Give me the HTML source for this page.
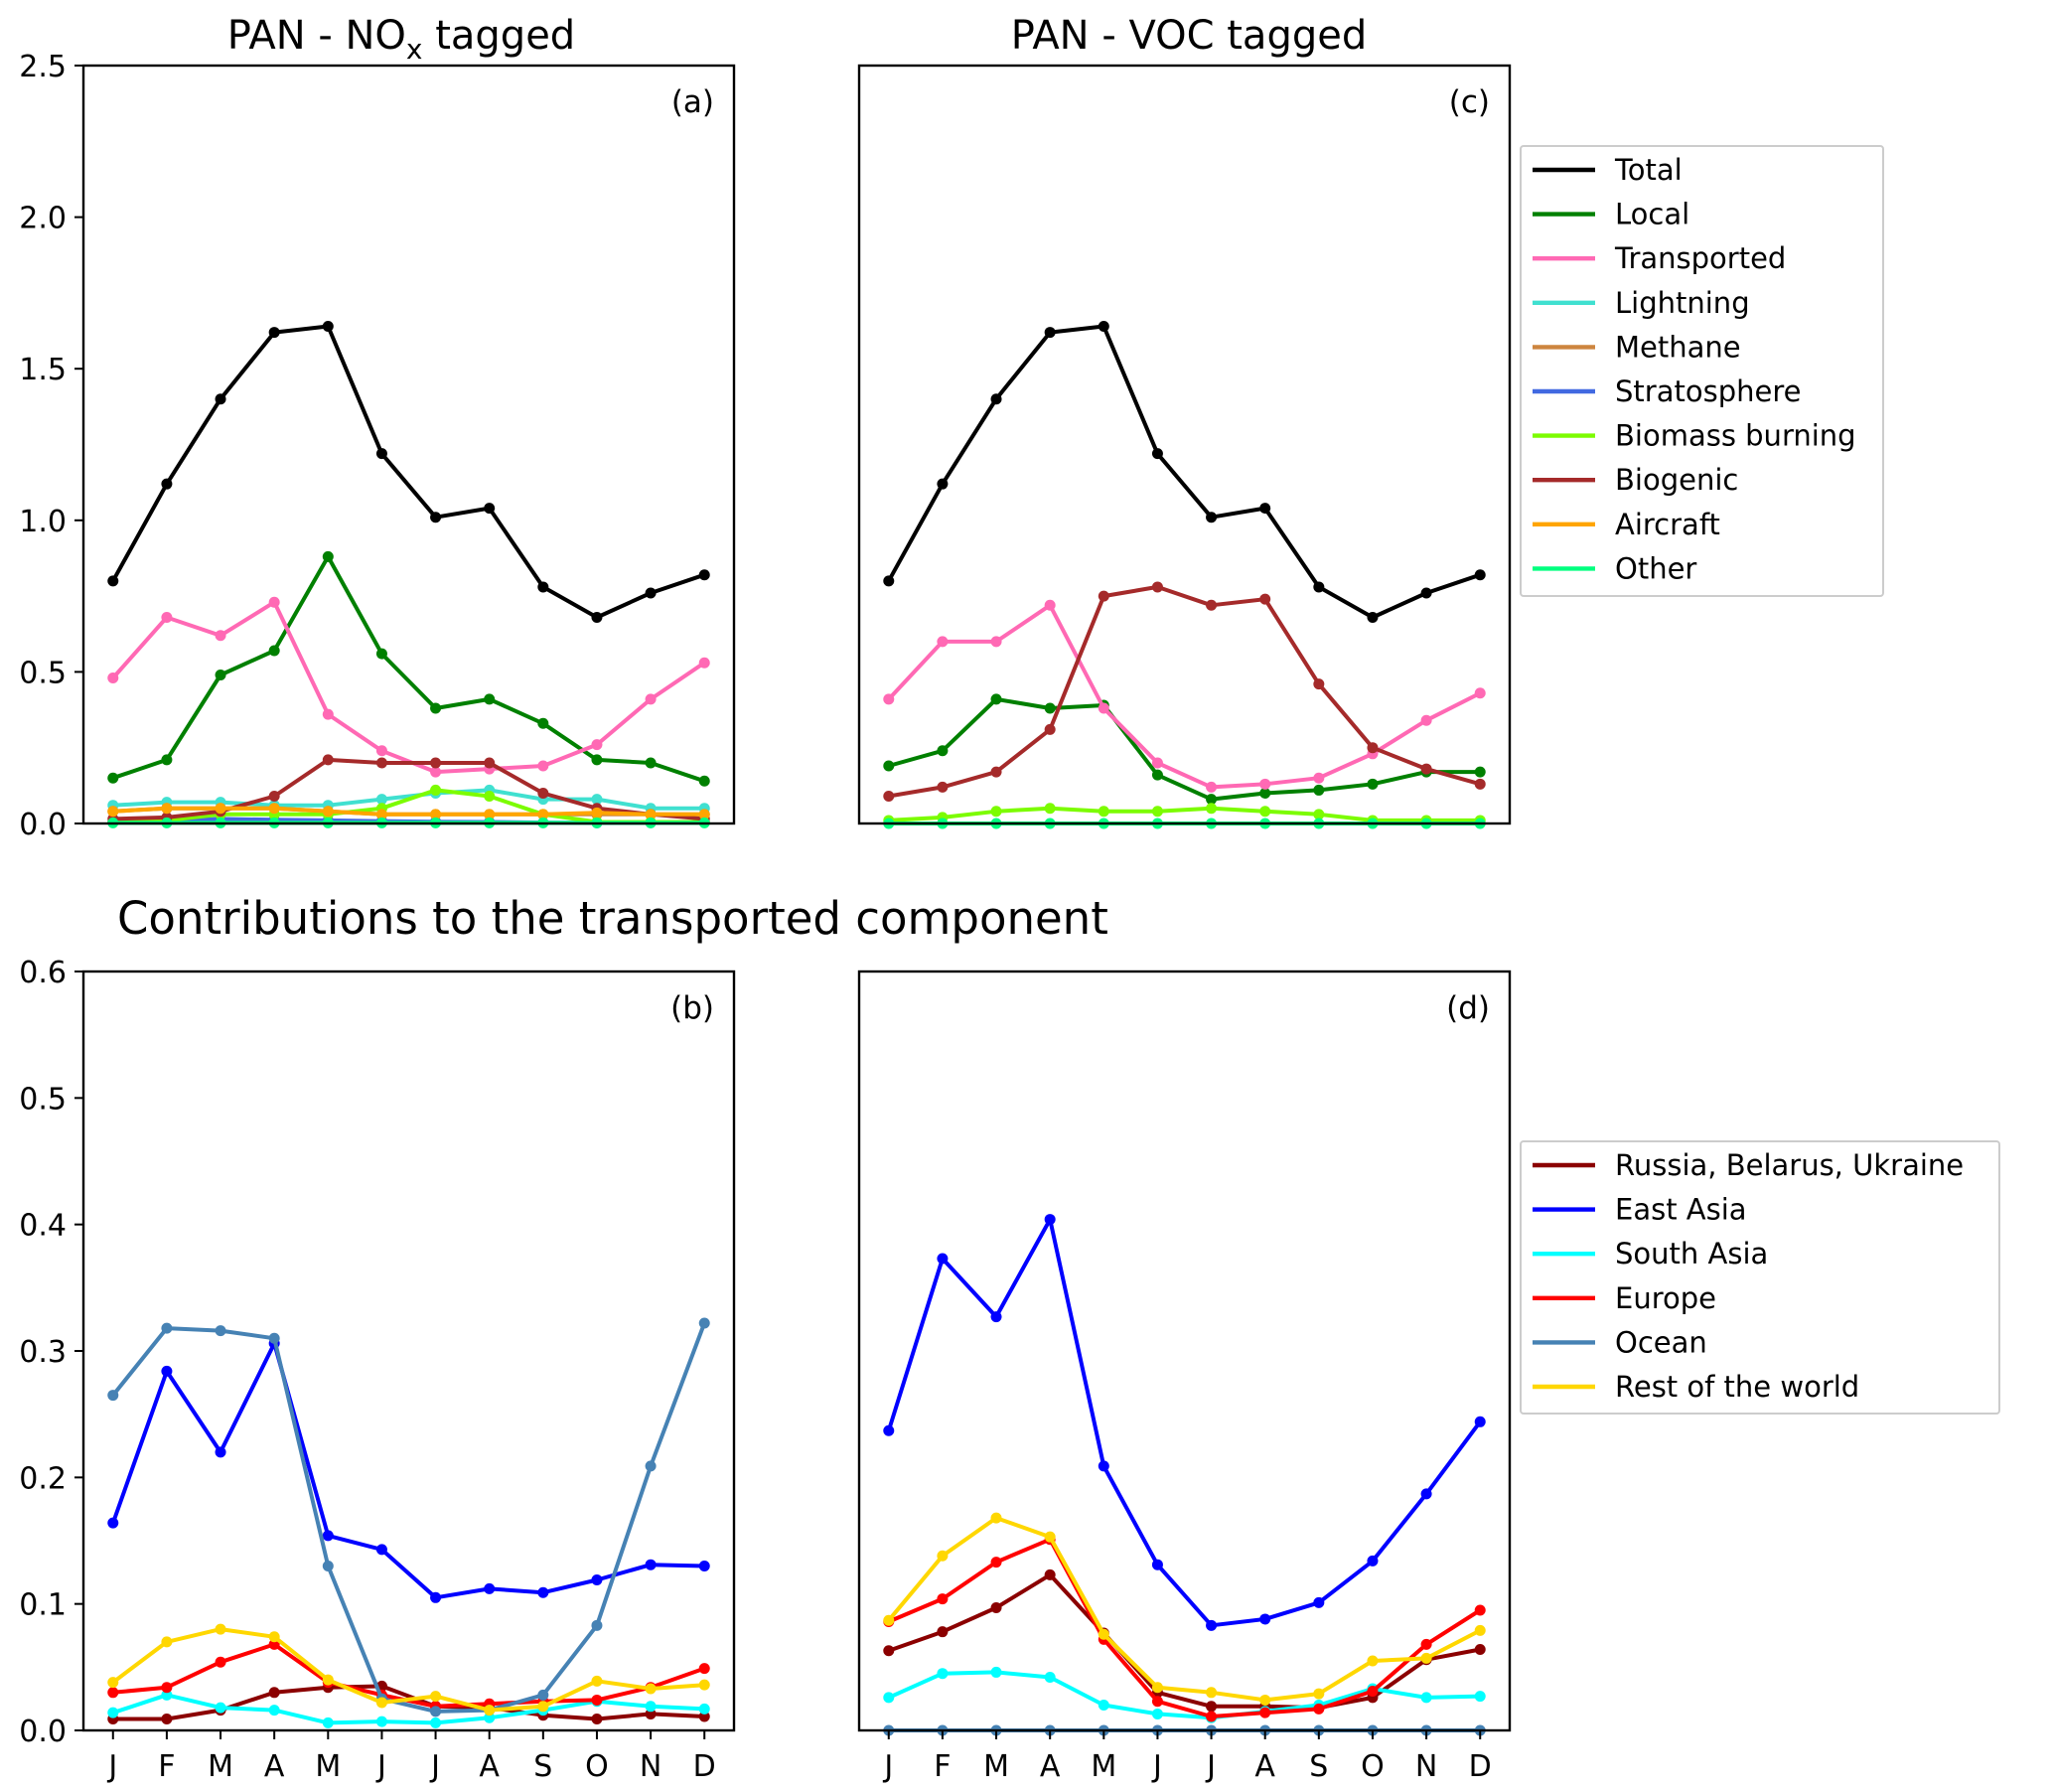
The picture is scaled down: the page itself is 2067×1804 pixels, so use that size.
<!DOCTYPE html>
<html><head><meta charset="utf-8"><style>
body{margin:0;background:#fff}
svg{display:block;font-family:"DejaVu Sans","Liberation Sans",sans-serif}
</style></head><body>
<svg id="fig" width="2067" height="1804" viewBox="0 0 2067 1804" xmlns="http://www.w3.org/2000/svg">
<text x="404" y="49" font-size="40" text-anchor="middle">PAN - NO<tspan font-size="28" dy="10">x</tspan><tspan dy="-10"> tagged</tspan></text>
<text x="1197" y="49" font-size="40" text-anchor="middle">PAN  - VOC tagged</text>
<text x="118" y="940" font-size="45">Contributions to the transported component</text>
</svg>
<script>
const months = ["J","F","M","A","M","J","J","A","S","O","N","D"];
const topTicks = ["0.0","0.5","1.0","1.5","2.0","2.5"];
const botTicks = ["0.0","0.1","0.2","0.3","0.4","0.5","0.6"];

const aTotal = [0.80,1.12,1.40,1.62,1.64,1.22,1.01,1.04,0.78,0.68,0.76,0.82];
const aLocal = [0.15,0.21,0.49,0.57,0.88,0.56,0.38,0.41,0.33,0.21,0.20,0.14];
const aTransported = [0.48,0.68,0.62,0.73,0.36,0.24,0.17,0.18,0.19,0.26,0.41,0.53];
const aLightning = [0.06,0.07,0.07,0.06,0.06,0.08,0.10,0.11,0.08,0.08,0.05,0.05];
const aMethane = [0.04,0.05,0.05,0.05,0.04,0.03,0.03,0.03,0.03,0.03,0.03,0.03];
const aStrato = [0.005,0.008,0.015,0.012,0.01,0.008,0.006,0.005,0.003,0.002,0.003,0.004];
const aBiomass = [0.005,0.01,0.03,0.03,0.03,0.05,0.11,0.09,0.03,0.005,0.005,0.005];
const aBiogenic = [0.015,0.02,0.04,0.09,0.21,0.20,0.20,0.20,0.10,0.05,0.03,0.015];
const aAircraft = [0.04,0.05,0.05,0.05,0.04,0.03,0.03,0.03,0.03,0.035,0.03,0.03];
const aOther = [0.002,0.002,0.002,0.002,0.002,0.002,0.002,0.002,0.002,0.002,0.002,0.002];

const cTotal = [0.80,1.12,1.40,1.62,1.64,1.22,1.01,1.04,0.78,0.68,0.76,0.82];
const cLocal = [0.19,0.24,0.41,0.38,0.39,0.16,0.08,0.10,0.11,0.13,0.17,0.17];
const cTransported = [0.41,0.60,0.60,0.72,0.38,0.20,0.12,0.13,0.15,0.23,0.34,0.43];
const cBiomass = [0.01,0.02,0.04,0.05,0.04,0.04,0.05,0.04,0.03,0.01,0.01,0.01];
const cBiogenic = [0.09,0.12,0.17,0.31,0.75,0.78,0.72,0.74,0.46,0.25,0.18,0.13];
const cOther = [0,0,0,0,0,0,0,0,0,0,0,0];

const bRBU = [0.009,0.009,0.016,0.03,0.034,0.035,0.019,0.018,0.012,0.009,0.013,0.011];
const bEastAsia = [0.164,0.284,0.22,0.306,0.154,0.143,0.105,0.112,0.109,0.119,0.131,0.13];
const bSouthAsia = [0.014,0.028,0.018,0.016,0.006,0.007,0.006,0.01,0.016,0.023,0.019,0.017];
const bEurope = [0.03,0.034,0.054,0.068,0.038,0.028,0.019,0.021,0.023,0.024,0.034,0.049];
const bOcean = [0.265,0.318,0.316,0.31,0.13,0.025,0.015,0.016,0.028,0.083,0.209,0.322];
const bRoW = [0.038,0.07,0.08,0.074,0.04,0.022,0.027,0.016,0.019,0.039,0.033,0.036];

const dRBU = [0.063,0.078,0.097,0.123,0.077,0.03,0.019,0.019,0.018,0.026,0.056,0.064];
const dEastAsia = [0.237,0.373,0.327,0.404,0.209,0.131,0.083,0.088,0.101,0.134,0.187,0.244];
const dSouthAsia = [0.026,0.045,0.046,0.042,0.02,0.013,0.01,0.015,0.02,0.033,0.026,0.027];
const dEurope = [0.086,0.104,0.133,0.151,0.072,0.023,0.011,0.014,0.017,0.031,0.068,0.095];
const dOcean = [0,0,0,0,0,0,0,0,0,0,0,0];
const dRoW = [0.087,0.138,0.168,0.153,0.076,0.034,0.03,0.024,0.029,0.055,0.057,0.079];

const topNames = ["Total","Local","Transported","Lightning","Methane","Stratosphere","Biomass burning","Biogenic","Aircraft","Other"];
const topColors = ["#000000","#008000","#ff69b4","#40e0d0","#cd853f","#4169e1","#7cfc00","#a52a2a","#ffa500","#00ff7f"];
const botNames = ["Russia, Belarus, Ukraine","East Asia","South Asia","Europe","Ocean","Rest of the world"];
const botColors = ["#8b0000","#0000ff","#00ffff","#ff0000","#4682b4","#ffd700"];

const NS="http://www.w3.org/2000/svg";
const svg=document.getElementById('fig');
function mk(tag,attrs,parent){const e=document.createElementNS(NS,tag);for(const k in attrs)e.setAttribute(k,attrs[k]);(parent||svg).appendChild(e);return e;}

function panel(id,x0,x1,y0,y1,ymax,ticks,showY,showX,label,series){
  const g=mk('g',{});
  
  
  const sx=i=>x0+(i+0.55)*(x1-x0)/12.1;
  const sy=v=>y1-v/ymax*(y1-y0);
  series.forEach(s=>{
    if(!s.data) return;
    const pts=s.data.map((v,i)=>sx(i).toFixed(1)+','+sy(v).toFixed(1)).join(' ');
    const pl=mk('polyline',{points:pts,fill:'none',stroke:s.color,'stroke-width':4,'stroke-linejoin':'round'},g);
    
    
    s.data.forEach((v,i)=>{
      const c=mk('circle',{cx:sx(i),cy:sy(v),r:5.5,fill:s.color},g);
      
      
    });
  });
  const fr=mk('rect',{x:x0,y:y0,width:x1-x0,height:y1-y0,fill:'none',stroke:'#000','stroke-width':2.4},g);
  
  
  if(showY){
    ticks.forEach(t=>{
      const y=sy(parseFloat(t));
      mk('line',{x1:x0-9,x2:x0,y1:y,y2:y,stroke:'#000','stroke-width':2},g);
      const tx=mk('text',{x:x0-17,y:y+11,'font-size':30,'text-anchor':'end'},g);
      tx.textContent=t;
      
      
    });
  }
  if(showX){
    months.forEach((m,i)=>{
      const x=sx(i);
      mk('line',{x1:x,x2:x,y1:y1,y2:y1+9,stroke:'#000','stroke-width':2},g);
      const tx=mk('text',{x:x,y:y1+46,'font-size':30,'text-anchor':'middle'},g);
      tx.textContent=m;
      
      
    });
  }
  const lb=mk('text',{x:x1-20,y:y0+47,'font-size':31,'text-anchor':'end'},g);
  lb.textContent=label;
  
  
}

function legend(id,x0,y0,w,h,names,colors){
  const g=mk('g',{});
  
  
  mk('rect',{x:x0,y:y0,width:w,height:h,rx:3,fill:'#fff',stroke:'#ccc','stroke-width':2},g);
  names.forEach((n,i)=>{
    const y=y0+24+i*44.6;
    const e=mk('g',{},g);
    
    
    mk('line',{x1:x0+12,x2:x0+75,y1:y,y2:y,stroke:colors[i],'stroke-width':4.4},e);
    const t=mk('text',{x:x0+95,y:y+10,'font-size':29},e);
    t.textContent=n;
  });
}

const LX0=84,LX1=739,RX0=865,RX1=1520;
const TY0=66,TY1=829,BY0=978,BY1=1742;

panel('a',LX0,LX1,TY0,TY1,2.5,topTicks,true,false,'(a)',[
 {name:'Total',data:aTotal,color:topColors[0]},{name:'Local',data:aLocal,color:topColors[1]},
 {name:'Transported',data:aTransported,color:topColors[2]},{name:'Lightning',data:aLightning,color:topColors[3]},
 {name:'Methane',data:aMethane,color:topColors[4]},{name:'Stratosphere',data:aStrato,color:topColors[5]},
 {name:'Biomass',data:aBiomass,color:topColors[6]},{name:'Biogenic',data:aBiogenic,color:topColors[7]},
 {name:'Aircraft',data:aAircraft,color:topColors[8]},{name:'Other',data:aOther,color:topColors[9]}]);
panel('c',RX0,RX1,TY0,TY1,2.5,topTicks,false,false,'(c)',[
 {name:'Total',data:cTotal,color:topColors[0]},{name:'Local',data:cLocal,color:topColors[1]},
 {name:'Transported',data:cTransported,color:topColors[2]},{name:'Biomass',data:cBiomass,color:topColors[6]},
 {name:'Biogenic',data:cBiogenic,color:topColors[7]},{name:'Other',data:cOther,color:topColors[9]}]);
panel('b',LX0,LX1,BY0,BY1,0.6,botTicks,true,true,'(b)',[
 {name:'RBU',data:bRBU,color:botColors[0]},{name:'EastAsia',data:bEastAsia,color:botColors[1]},
 {name:'SouthAsia',data:bSouthAsia,color:botColors[2]},{name:'Europe',data:bEurope,color:botColors[3]},
 {name:'Ocean',data:bOcean,color:botColors[4]},{name:'RoW',data:bRoW,color:botColors[5]}]);
panel('d',RX0,RX1,BY0,BY1,0.6,botTicks,false,true,'(d)',[
 {name:'RBU',data:dRBU,color:botColors[0]},{name:'EastAsia',data:dEastAsia,color:botColors[1]},
 {name:'SouthAsia',data:dSouthAsia,color:botColors[2]},{name:'Europe',data:dEurope,color:botColors[3]},
 {name:'Ocean',data:dOcean,color:botColors[4]},{name:'RoW',data:dRoW,color:botColors[5]}]);

legend('sources',1531,147,365,453,topNames,topColors);
legend('regions',1531,1149,482,274,botNames,botColors);
</script>
</body></html>
